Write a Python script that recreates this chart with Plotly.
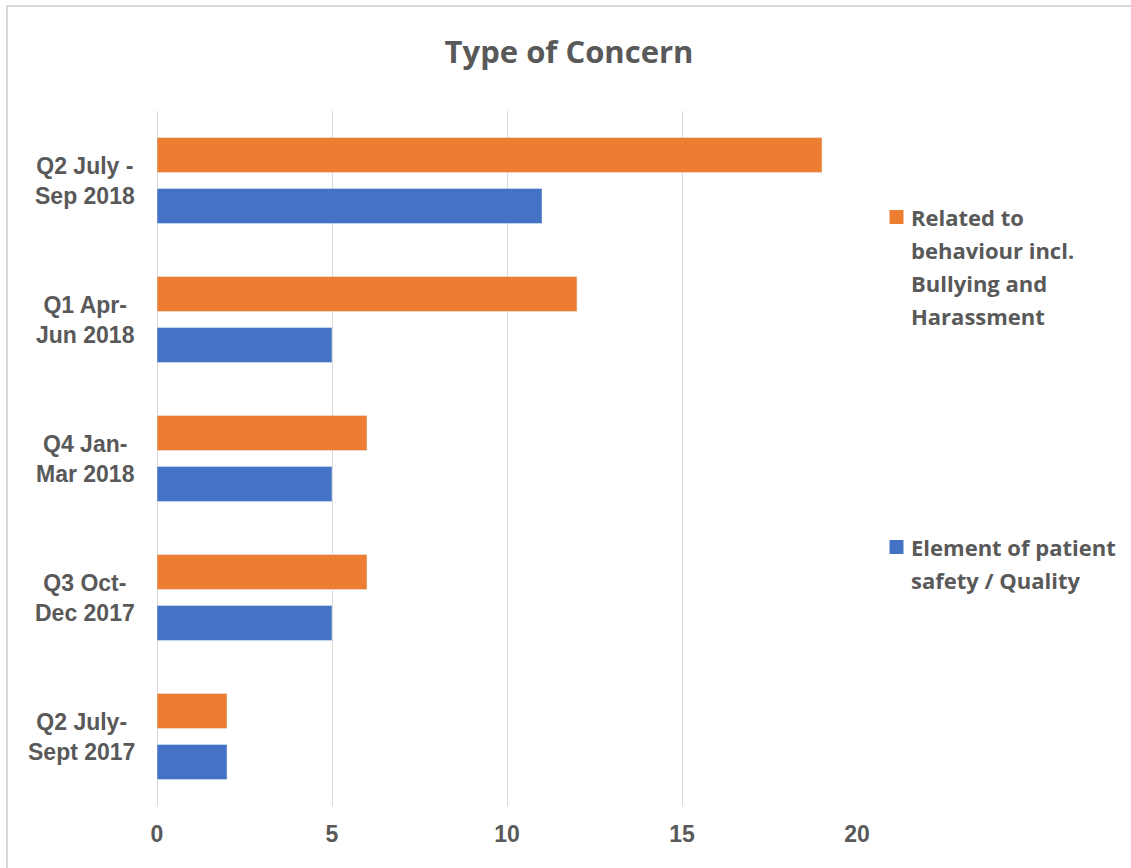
import plotly.graph_objects as go

# ---- data ----
categories = ["Q2 July-<br>Sept 2017", "Q3 Oct-<br>Dec 2017", "Q4 Jan-<br>Mar 2018",
              "Q1 Apr-<br>Jun 2018", "Q2 July -<br>Sep 2018"]
behaviour_name = "Related to<br>behaviour incl.<br>Bullying and<br>Harassment"
behaviour = [2, 6, 6, 12, 19]
safety_name = "Element of patient<br>safety / Quality"
safety = [2, 5, 5, 5, 11]
x_ticks = [0, 5, 10, 15, 20]

ORANGE = "#ED7D31"
BLUE = "#4472C4"
TEXT = "#595959"
GRID = "#D9D9D9"

W, H = 1131, 868
L, R, T, B = 157, 274, 111, 62
PW, PH = W - L - R, H - T - B


def px(xpix):
    return (xpix - L) / PW


def py(ypix):
    return (H - B - ypix) / PH


fig = go.Figure()
fig.add_trace(go.Bar(y=categories, x=safety, orientation="h", name=safety_name,
                     marker=dict(color=BLUE), showlegend=False))
fig.add_trace(go.Bar(y=categories, x=behaviour, orientation="h", name=behaviour_name,
                     marker=dict(color=ORANGE), showlegend=False))

annotations = []
# y category labels (centred multi-line, like the original)
for c in categories:
    annotations.append(dict(x=0, xref="paper", y=c, yref="y", text="<b>%s</b>" % c,
                            showarrow=False, xanchor="right", yanchor="middle",
                            xshift=-20, align="center",
                            font=dict(family="Liberation Sans, Arial", size=23, color=TEXT)))

# manual legend
legend_items = [(behaviour_name, ORANGE, 217), (safety_name, BLUE, 547)]
shapes = []
for name, col, ytop in legend_items:
    shapes.append(dict(type="rect", xref="paper", yref="paper",
                       x0=px(889.5), x1=px(903.5), y0=py(ytop - 7), y1=py(ytop + 7),
                       fillcolor=col, line=dict(width=0)))
    for i, line in enumerate(name.split("<br>")):
        annotations.append(dict(x=px(909), xref="paper", y=py(ytop + 33 * i), yref="paper",
                                text=line, showarrow=False, xanchor="left", yanchor="middle",
                                font=dict(family="Open Sans", size=22, weight=700, color=TEXT)))

# chart border (top and left edges visible)
shapes.append(dict(type="line", xref="paper", yref="paper", x0=px(6), x1=px(1131),
                   y0=py(6), y1=py(6), line=dict(color=GRID, width=2)))
shapes.append(dict(type="line", xref="paper", yref="paper", x0=px(7), x1=px(7),
                   y0=py(6), y1=py(868), line=dict(color=GRID, width=2)))

fig.update_layout(
    width=W, height=H,
    margin=dict(l=L, r=R, t=T, b=B, pad=0),
    paper_bgcolor="white", plot_bgcolor="white",
    barmode="group", bargap=0.266, bargroupgap=0.314,
    title=dict(text="Type of Concern", x=569 / W, xanchor="center", xref="container",
               y=1 - 52 / H, yanchor="middle", yref="container",
               font=dict(family="Open Sans", size=31, weight=700, color=TEXT)),
    xaxis=dict(range=[0, 20], tickvals=x_ticks, ticktext=[str(v) for v in x_ticks],
               showgrid=True, gridcolor=GRID, gridwidth=1, zeroline=True, zerolinecolor=GRID,
               zerolinewidth=1, showline=False, ticks="", ticklabelstandoff=12,
               tickfont=dict(family="Liberation Sans, Arial", size=23, weight=700, color=TEXT),
               fixedrange=True),
    yaxis=dict(showticklabels=False, showgrid=False, zeroline=False, showline=False,
               ticks="", fixedrange=True),
    annotations=annotations,
    shapes=shapes,
    showlegend=False,
)

fig.write_html("out.html")
